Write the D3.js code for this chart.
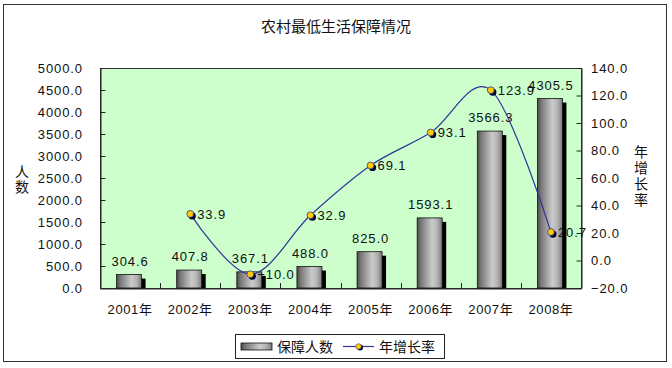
<!DOCTYPE html>
<html><head><meta charset="utf-8">
<script src="https://cdn.jsdelivr.net/npm/d3@7/dist/d3.min.js"></script>
<style>
body{margin:0;background:#fff;}
svg{display:block;}
text{font-family:"Liberation Sans",Arial,"Noto Sans CJK SC",sans-serif;fill:#111;}
.cjk{font-family:"Noto Sans CJK SC","Liberation Sans",sans-serif;}
.vt{writing-mode:vertical-rl;text-orientation:upright;}
</style></head>
<body>
<script>
const title = "农村最低生活保障情况";
const categories = ["2001年","2002年","2003年","2004年","2005年","2006年","2007年","2008年"];
const people = [304.6, 407.8, 367.1, 488.0, 825.0, 1593.1, 3566.3, 4305.5];
const growth = [null, 33.9, -10.0, 32.9, 69.1, 93.1, 123.9, 20.7];
const leftTicks = [0,500,1000,1500,2000,2500,3000,3500,4000,4500,5000];
const rightTicks = [-20,0,20,40,60,80,100,120,140];
const seriesNames = ["保障人数","年增长率"];
const leftTitle = "人数";
const rightTitle = "年增长率";

const W = 672, H = 368;
const svg = d3.select("body").append("svg").attr("width", W).attr("height", H);

const defs = svg.append("defs");
const g = defs.append("linearGradient").attr("id","barGrad").attr("x1","0").attr("x2","1").attr("y1","0").attr("y2","0");
[["0%","#4a4a4a"],["15%","#787878"],["60%","#cacaca"],["80%","#b4b4b4"],["100%","#7a7a7a"]]
  .forEach(([o,c])=>g.append("stop").attr("offset",o).attr("stop-color",c));

// outer border
svg.append("rect").attr("x",3.5).attr("y",4.5).attr("width",663).attr("height",357)
  .attr("fill","#fff").attr("stroke","#333").attr("stroke-width",1);

svg.append("text").attr("class","cjk").attr("x",336).attr("y",32).attr("text-anchor","middle")
  .attr("font-size",15).text(title);

const L = 100, R = 581, T = 68, B = 288;
const x = d3.scaleBand().domain(categories).range([L,R]).padding(0);
const yL = d3.scaleLinear().domain([0,5000]).range([B,T]);
const yR = d3.scaleLinear().domain([-20,140]).range([B,T]);

svg.append("rect").attr("x",L+0.5).attr("y",T+0.5).attr("width",R-L).attr("height",B-T)
  .attr("fill","#ccffcc").attr("stroke","#333").attr("stroke-width",1);

const fmt = d3.format(".1f");

// left axis
const axL = svg.append("g").attr("transform",`translate(${L+0.5},0)`)
  .call(d3.axisRight(yL).tickValues(leftTicks).tickSize(5).tickFormat(""));
axL.select(".domain").attr("stroke","#222");
axL.selectAll(".tick line").attr("stroke","#222");
svg.append("g").selectAll("text").data(leftTicks).join("text")
  .attr("x",83).attr("y",d=>yL(d)+4.5).attr("text-anchor","end")
  .attr("font-size",13).attr("letter-spacing",0.9).text(d=>fmt(d));

// right axis
const axR = svg.append("g").attr("transform",`translate(${R+0.5},0)`)
  .call(d3.axisLeft(yR).tickValues(rightTicks).tickSize(5).tickFormat(""));
axR.select(".domain").attr("stroke","#222");
axR.selectAll(".tick line").attr("stroke","#222");
svg.append("g").selectAll("text").data(rightTicks).join("text")
  .attr("x",591).attr("y",d=>yR(d)+4.5).attr("text-anchor","start")
  .attr("font-size",13).attr("letter-spacing",0.9).text(d=>fmt(d));

// x axis
const axX = svg.append("g").attr("transform",`translate(0,${B+0.5})`)
  .call(d3.axisTop(x).tickSize(0).tickFormat(""));
axX.select(".domain").attr("stroke","#222");
const bounds = categories.slice(1).map(c=>x(c));
svg.append("g").selectAll("line").data(bounds).join("line")
  .attr("x1",d=>Math.round(d)+0.5).attr("x2",d=>Math.round(d)+0.5)
  .attr("y1",B).attr("y2",B-5).attr("stroke","#222");
svg.append("g").selectAll("text").data(categories).join("text")
  .attr("x",d=>x(d)+x.bandwidth()/2).attr("y",314).attr("text-anchor","middle")
  .attr("font-size",13).attr("letter-spacing",0.6).text(d=>d);

// axis titles (vertical)
svg.append("text").attr("class","cjk vt").attr("x",22).attr("y",165)
  .attr("font-size",14).attr("letter-spacing",1).text(leftTitle);
svg.append("text").attr("class","cjk vt").attr("x",641).attr("y",145)
  .attr("font-size",14).attr("letter-spacing",2).text(rightTitle);

// bars
const bw = 25;
const bars = svg.append("g");
const bx = d=>x(d)+x.bandwidth()/2 - bw/2 - 1;
bars.selectAll("rect.sh").data(categories).join("rect").attr("class","sh")
  .attr("x",d=>bx(d)+4).attr("y",(d,i)=>yL(people[i])+4)
  .attr("width",bw).attr("height",(d,i)=>B-yL(people[i])-4).attr("fill","#000");
bars.selectAll("rect.b").data(categories).join("rect").attr("class","b")
  .attr("x",d=>bx(d)).attr("y",(d,i)=>yL(people[i]))
  .attr("width",bw).attr("height",(d,i)=>B-yL(people[i]))
  .attr("fill","url(#barGrad)").attr("stroke","#111").attr("stroke-width",0.8);

// bar labels
svg.append("g").selectAll("text").data(categories).join("text")
  .attr("x",d=>x(d)+x.bandwidth()/2).attr("y",(d,i)=>yL(people[i])-9)
  .attr("text-anchor","middle").attr("font-size",13).attr("letter-spacing",0.9)
  .text((d,i)=>fmt(people[i]));

// line
const pts = categories.map((c,i)=>({c, v:growth[i]})).filter(p=>p.v!==null);
const line = d3.line().x(p=>x(p.c)+x.bandwidth()/2).y(p=>yR(p.v)).curve(d3.curveCatmullRom.alpha(0));
svg.append("path").attr("d",line(pts)).attr("fill","none").attr("stroke","#333399").attr("stroke-width",1.2);

const mk = svg.append("g");
mk.selectAll("circle.sh").data(pts).join("circle").attr("class","sh")
  .attr("cx",p=>x(p.c)+x.bandwidth()/2+2).attr("cy",p=>yR(p.v)+2).attr("r",3.6).attr("fill","#000033");
mk.selectAll("circle.m").data(pts).join("circle").attr("class","m")
  .attr("cx",p=>x(p.c)+x.bandwidth()/2).attr("cy",p=>yR(p.v)).attr("r",3.4)
  .attr("fill","#ffcc00").attr("stroke","#333399").attr("stroke-width",0.8);

svg.append("g").selectAll("text").data(pts).join("text")
  .attr("x",p=>x(p.c)+x.bandwidth()/2+7).attr("y",p=>yR(p.v)+5)
  .attr("font-size",13).attr("letter-spacing",0.9).text(p=>fmt(p.v));

// legend
const lg = svg.append("g");
lg.append("rect").attr("x",235.5).attr("y",334.5).attr("width",209).attr("height",24)
  .attr("fill","#fff").attr("stroke","#222");
lg.append("rect").attr("x",241).attr("y",343).attr("width",31).attr("height",7)
  .attr("fill","url(#barGrad)").attr("stroke","#111").attr("stroke-width",0.8);
lg.append("text").attr("class","cjk").attr("x",277).attr("y",352).attr("font-size",14).text(seriesNames[0]);
lg.append("line").attr("x1",343).attr("x2",374).attr("y1",346.5).attr("y2",346.5).attr("stroke","#333399").attr("stroke-width",1.2);
lg.append("circle").attr("cx",360).attr("cy",347.5).attr("r",3).attr("fill","#000033");
lg.append("circle").attr("cx",358.5).attr("cy",346.5).attr("r",2.8).attr("fill","#ffcc00").attr("stroke","#333399").attr("stroke-width",0.6);
lg.append("text").attr("class","cjk").attr("x",379).attr("y",352).attr("font-size",14).text(seriesNames[1]);
</script>
</body></html>
